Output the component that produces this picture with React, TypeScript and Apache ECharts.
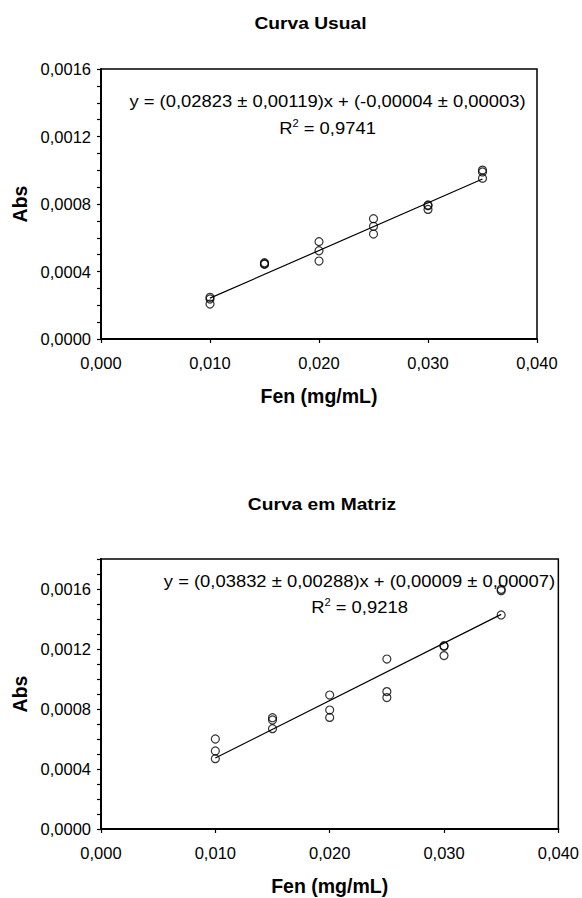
import React, { useEffect, useRef } from "react";
import * as echarts from "echarts";

// ---------- data ----------
const concentrations = [0.01, 0.015, 0.02, 0.025, 0.03, 0.035];

// Curva Usual (three replicates per concentration)
const usualRep1 = [0.000247, 0.000452, 0.000577, 0.000713, 0.000794, 0.001001];
const usualRep2 = [0.000237, 0.000446, 0.000523, 0.000668, 0.00079, 0.00099];
const usualRep3 = [0.000207, 0.000443, 0.000462, 0.000622, 0.000768, 0.000953];

// Curva em Matriz (three replicates per concentration)
const matrizRep1 = [0.0006, 0.000742, 0.000893, 0.001133, 0.001222, 0.001598];
const matrizRep2 = [0.00052, 0.000727, 0.000793, 0.000916, 0.001218, 0.001589];
const matrizRep3 = [0.000469, 0.000669, 0.000744, 0.000876, 0.001156, 0.001427];

// fitted lines (end points)
const fitX = [0.01, 0.035];
const usualFitY = [0.000242, 0.000948];
const matrizFitY = [0.000473, 0.001431];

const titles = ["Curva Usual", "Curva em Matriz"];
const equations = [
  "y = (0,02823 \u00b1 0,00119)x + (-0,00004 \u00b1 0,00003)",
  "y = (0,03832 \u00b1 0,00288)x + (0,00009 \u00b1 0,00007)",
];
const r2Values = ["0,9741", "0,9218"];
const yMax = [0.0016, 0.0018];
const xAxisName = "Fen (mg/mL)";
const yAxisName = "Abs";

const FONT = '"Liberation Sans", Arial, Helvetica, sans-serif';

function pairs(xs: number[], ys: number[]) {
  return xs.map((x, i) => [x, ys[i]]);
}

export default function App() {
  const ref = useRef<HTMLDivElement>(null);

  useEffect(() => {
    document.body.style.margin = "0";
    if (!ref.current) return;
    const chart = echarts.init(ref.current, undefined, { renderer: "svg" });

    const grids = [
      { left: 101, top: 69, width: 436, height: 270 },
      { left: 101, top: 559, width: 458, height: 270 },
    ];

    const reps = [
      [usualRep1, usualRep2, usualRep3],
      [matrizRep1, matrizRep2, matrizRep3],
    ];
    const fits = [usualFitY, matrizFitY];

    const series: any[] = [];
    [0, 1].forEach((g) => {
      series.push({
        type: "line",
        xAxisIndex: g,
        yAxisIndex: g,
        data: pairs(fitX, fits[g]),
        symbol: "none",
        lineStyle: { color: "#000", width: 1.2 },
        z: 2,
      });
      const pts: number[][] = [];
      reps[g].forEach((r) => pts.push(...pairs(concentrations, r)));
      series.push({
        type: "scatter",
        xAxisIndex: g,
        yAxisIndex: g,
        data: pts,
        symbol: "circle",
        symbolSize: 8,
        itemStyle: { color: "rgba(0,0,0,0)", borderColor: "#000", borderWidth: 1.2 },
        z: 3,
      });
    });

    const eqCenters = [
      { x: 327.5, y1: 101.5, y2: 128 },
      { x: 359.5, y1: 581, y2: 607 },
    ];
    const titlePos = [
      { x: 310.5, y: 23 },
      { x: 322, y: 504 },
    ];

    const graphic: any[] = [];
    [0, 1].forEach((g) => {
      graphic.push({
        type: "text",
        x: titlePos[g].x,
        y: titlePos[g].y,
        scaleX: 1.13,
        style: {
          text: titles[g],
          fontFamily: FONT,
          fontSize: 17,
          fontWeight: "bold",
          fill: "#000",
          align: "center",
          verticalAlign: "middle",
        },
      });
      graphic.push({
        type: "text",
        x: eqCenters[g].x,
        y: eqCenters[g].y1,
        scaleX: 1.115,
        style: {
          text: equations[g],
          fontFamily: FONT,
          fontSize: 16.5,
          fill: "#000",
          align: "center",
          verticalAlign: "middle",
        },
        z: 10,
      });
      graphic.push({
        type: "text",
        x: eqCenters[g].x,
        y: eqCenters[g].y2,
        scaleX: 1.115,
        style: {
          text: "{r|R}{s|2}{r| = " + r2Values[g] + "}",
          fontFamily: FONT,
          fontSize: 16.5,
          fill: "#000",
          align: "center",
          verticalAlign: "middle",
          rich: {
            r: { fontFamily: FONT, fontSize: 16.5, fill: "#000", lineHeight: 19 },
            s: { fontFamily: FONT, fontSize: 10, fill: "#000", lineHeight: 19, verticalAlign: "top" },
          },
        },
        z: 10,
      });
    });

    chart.setOption({
      animation: false,
      backgroundColor: "#fff",
      textStyle: { fontFamily: FONT },
      grid: grids.map((gr) => ({
        ...gr,
        show: true,
        borderColor: "#000",
        borderWidth: 1.5,
        backgroundColor: "transparent",
      })),
      xAxis: [0, 1].map((g) => ({
        type: "value",
        gridIndex: g,
        min: 0,
        max: 0.04,
        interval: 0.01,
        axisLine: { show: true, onZero: false, lineStyle: { color: "#000", width: 2 } },
        axisTick: { show: true, length: 4, lineStyle: { color: "#000", width: 1.2 } },
        splitLine: { show: false },
        axisLabel: {
          formatter: (v: number) => v.toFixed(3).replace(".", ","),
          color: "#000",
          fontSize: 16.5,
          margin: 15,
          fontFamily: FONT,
        },
        name: xAxisName,
        nameLocation: "middle",
        nameGap: 47,
        nameTextStyle: { fontWeight: "bold", fontSize: 19.5, color: "#000", fontFamily: FONT },
      })),
      yAxis: [0, 1].map((g) => ({
        type: "value",
        gridIndex: g,
        min: 0,
        max: yMax[g],
        interval: 0.0001,
        axisLine: { show: true, onZero: false, lineStyle: { color: "#000", width: 2 } },
        axisTick: { show: true, length: 4, lineStyle: { color: "#000", width: 1.2 } },
        splitLine: { show: false },
        axisLabel: {
          formatter: (v: number) => {
            const k = Math.round(v * 10000);
            return k % 4 === 0 ? v.toFixed(4).replace(".", ",") : "";
          },
          color: "#000",
          fontSize: 16.5,
          margin: 10,
          fontFamily: FONT,
        },
        name: yAxisName,
        nameLocation: "middle",
        nameRotate: 90,
        nameGap: 70,
        nameTextStyle: { fontWeight: "bold", fontSize: 19.5, color: "#000", fontFamily: FONT },
      })),
      series,
      graphic,
    });

    return () => chart.dispose();
  }, []);

  return (
    <div
      ref={ref}
      style={{ width: 582, height: 898, position: "absolute", left: 0, top: 0, background: "#fff" }}
    />
  );
}
